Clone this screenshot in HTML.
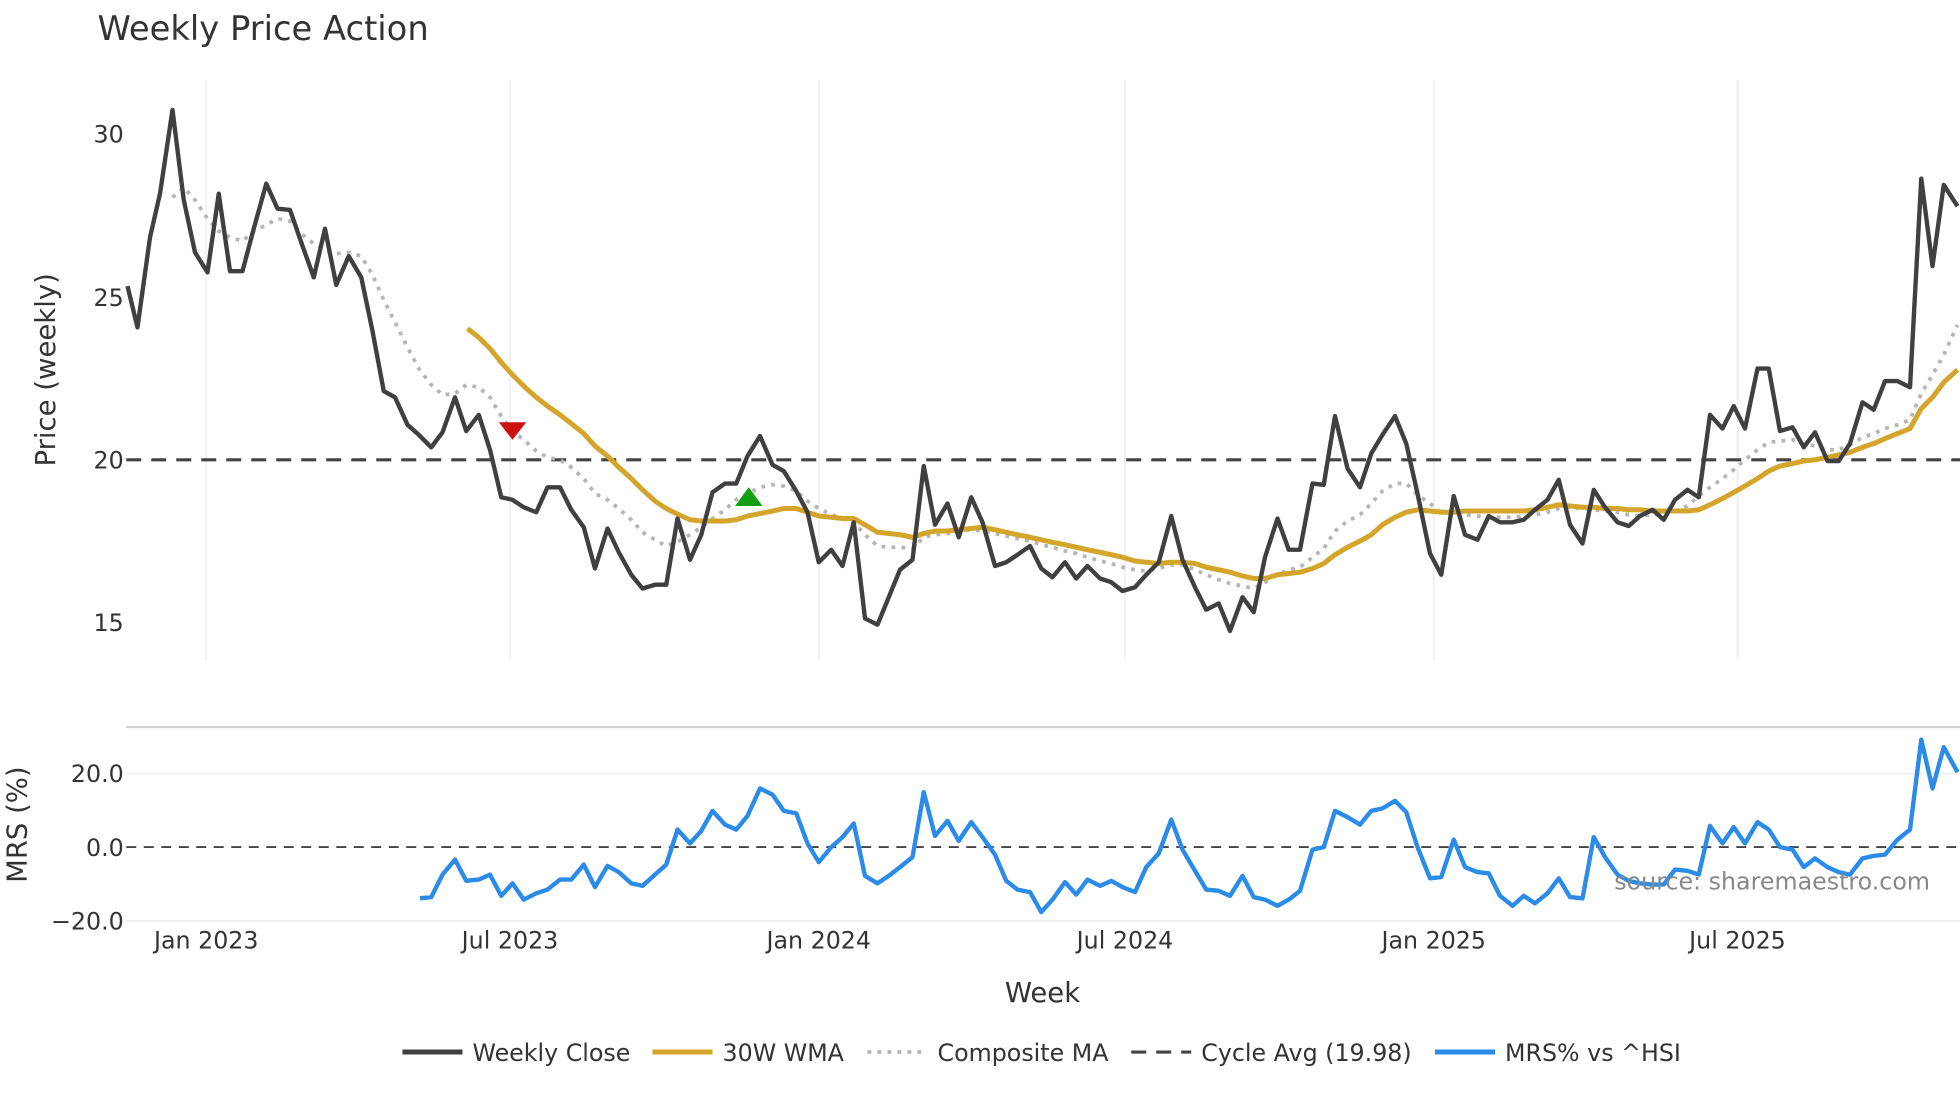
<!DOCTYPE html>
<html><head><meta charset="utf-8"><style>
html,body{margin:0;padding:0;background:#fff;}
svg{display:block;}
text{font-family:"DejaVu Sans","Liberation Sans",sans-serif;fill:#333;}
</style></head><body>
<svg width="1960" height="1102" viewBox="0 0 1568 882" preserveAspectRatio="none">
<rect width="1568" height="882" fill="#fff"/>
<text x="78" y="32" font-size="27">Weekly Price Action</text>
<g stroke="#eef0f2" stroke-width="1.5">
<line x1="165" y1="64" x2="165" y2="528"/><line x1="408" y1="64" x2="408" y2="528"/>
<line x1="655" y1="64" x2="655" y2="528"/><line x1="900" y1="64" x2="900" y2="528"/>
<line x1="1147" y1="64" x2="1147" y2="528"/><line x1="1390" y1="64" x2="1390" y2="528"/>
<line x1="101" y1="619" x2="1568" y2="619"/><line x1="101" y1="737" x2="1568" y2="737"/>
</g>
<line x1="101" y1="582" x2="1568" y2="582" stroke="#ccc" stroke-width="1.5"/>
<g font-size="19" text-anchor="end">
<text x="99" y="114">30</text><text x="99" y="245">25</text><text x="99" y="375">20</text><text x="99" y="505">15</text>
<text x="99" y="626">20.0</text><text x="99" y="685">0.0</text><text x="99" y="744">−20.0</text>
</g>
<g font-size="19" text-anchor="middle">
<text x="165" y="759">Jan 2023</text><text x="408" y="759">Jul 2023</text><text x="655" y="759">Jan 2024</text>
<text x="900" y="759">Jul 2024</text><text x="1147" y="759">Jan 2025</text><text x="1390" y="759">Jul 2025</text>
</g>
<text x="834" y="802" font-size="22" text-anchor="middle">Week</text>
<text transform="translate(44,296) rotate(-90)" font-size="22" text-anchor="middle">Price (weekly)</text>
<text transform="translate(21,660) rotate(-90)" font-size="22" text-anchor="middle">MRS (%)</text>
<line x1="101" y1="368" x2="1568" y2="368" stroke="#444" stroke-width="2.5" stroke-dasharray="12,8"/>
<line x1="101" y1="678" x2="1568" y2="678" stroke="#444" stroke-width="1.5" stroke-dasharray="8,6"/>
<polyline fill="none" stroke="#b5b5b5" stroke-width="3" stroke-dasharray="3,5" points="138,158 147,150 156,160 166,175 175,185 184,190 194,193 203,185 213,180 222,175 232,177 241,187 251,195 260,200 269,203 279,202 289,205 298,220 307,240 316,258 326,278 335,295 345,308 354,316 364,315 373,308 383,310 392,318 401,333 410,345 419,352 429,361 438,366 448,368 457,374 467,383 476,395 486,400 495,407 505,416 514,426 524,432 533,437 543,433 552,428 561,422 570,415 580,408 589,400 598,395 608,390 618,388 627,389 637,393 646,401 655,407 665,412 674,415 683,418 692,428 702,437 711,438 720,438 730,439 739,430 748,428 758,427 767,425 777,424 786,425 796,427 805,429 814,431 824,433 833,436 842,438 852,441 861,443 870,446 880,449 889,451 898,454 908,456 917,457 927,455 937,452 946,452 956,456 965,460 975,464 984,467 994,469 1003,471 1012,466 1022,460 1031,456 1040,454 1050,446 1059,439 1068,425 1078,417 1088,412 1097,403 1106,393 1116,387 1125,387 1134,396 1144,403 1153,410 1163,410 1172,412 1182,413 1191,414 1200,414 1210,414 1219,413 1228,412 1238,410 1247,407 1256,406 1266,407 1275,408 1284,409 1294,410 1303,412 1312,413 1322,412 1331,411 1340,409 1350,405 1359,397 1368,390 1378,383 1387,376 1396,368 1406,360 1415,354 1424,353 1434,352 1443,355 1452,357 1462,360 1471,360 1480,356 1490,350 1499,347 1508,343 1518,340 1528,336 1537,315 1546,300 1555,284 1566,260"/>
<polyline fill="none" stroke="#d4a52a" stroke-width="4" stroke-linejoin="round" points="374,263 383,270 392,279 401,290 410,300 420,310 429,318 438,325 448,332 457,339 467,347 476,357 486,365 495,374 505,383 514,392 524,401 533,407 543,412 552,416 561,417 570,417 580,417 589,416 598,413 608,411 618,409 627,407 637,407 646,410 655,413 665,414 674,415 683,415 692,420 702,426 711,427 720,428 730,430 739,427 748,425 758,425 767,424 777,423 786,422 796,424 805,426 814,428 824,430 833,432 842,434 852,436 861,438 870,440 880,442 889,444 898,446 908,449 917,450 927,451 937,450 946,450 956,451 965,454 975,456 984,458 994,461 1003,463 1012,463 1022,460 1031,459 1040,458 1050,455 1059,451 1068,444 1078,438 1088,433 1097,428 1106,420 1116,414 1125,410 1134,408 1144,409 1153,410 1163,410 1172,409 1182,409 1191,409 1200,409 1210,409 1219,409 1228,408 1238,406 1247,404 1256,405 1266,406 1275,406 1284,407 1294,407 1303,408 1312,408 1322,409 1331,409 1340,409 1350,409 1359,408 1368,404 1378,399 1387,394 1396,389 1406,383 1415,377 1424,373 1434,371 1443,369 1452,368 1462,366 1471,364 1480,362 1490,358 1499,355 1508,351 1518,347 1528,343 1537,327 1546,318 1555,306 1566,296"/>
<polyline fill="none" stroke="#404040" stroke-width="3.5" stroke-linejoin="round" points="102,229 110,262 120,190 128,155 138,88 147,160 156,202 166,218 175,155 184,217 194,217 203,183 213,147 222,167 232,168 241,194 251,222 260,183 269,228 279,205 289,222 298,265 307,313 316,318 326,340 335,348 345,358 354,346 364,318 373,345 383,332 392,360 401,398 410,400 419,406 429,410 438,390 448,390 457,408 467,422 476,455 486,423 495,442 505,460 514,471 524,468 533,468 542,415 552,448 561,428 570,394 580,387 589,387 598,365 608,349 618,372 627,377 637,393 646,410 655,450 665,440 674,453 683,418 692,495 702,500 711,478 720,456 730,448 739,373 748,420 758,403 767,430 777,398 786,418 796,453 805,450 814,444 824,437 833,455 842,462 852,450 861,463 870,453 880,463 889,466 898,473 908,470 917,460 927,450 937,413 946,448 956,470 965,488 975,483 984,505 994,478 1003,490 1012,446 1022,415 1031,440 1040,440 1050,387 1059,388 1068,333 1078,375 1088,390 1097,363 1106,348 1116,333 1125,355 1134,395 1144,443 1153,460 1163,397 1172,428 1182,432 1191,413 1200,418 1210,418 1219,416 1228,408 1238,400 1247,384 1256,420 1266,435 1275,392 1284,406 1294,418 1303,421 1312,413 1322,408 1331,416 1340,400 1350,392 1359,398 1368,332 1378,343 1387,325 1396,343 1406,295 1415,295 1424,345 1434,342 1443,358 1452,346 1462,369 1471,369 1480,355 1490,322 1499,328 1508,305 1518,305 1528,310 1537,143 1546,213 1555,148 1566,165"/>
<polygon points="399,338 421,338 410,352" fill="#cc1111"/>
<polygon points="588,405 610,405 599,390" fill="#11a011"/>
<polyline fill="none" stroke="#2b8be8" stroke-width="3.5" stroke-linejoin="round" points="336,719 345,718 354,700 364,688 373,705 383,704 392,700 401,717 410,707 419,720 429,715 438,712 448,704 457,704 467,692 476,710 486,693 495,698 505,707 514,709 524,700 533,692 542,664 552,675 561,665 570,649 580,660 589,664 598,653 608,631 618,636 627,649 637,651 646,675 655,690 665,678 674,670 683,659 692,701 702,707 711,701 720,694 730,686 739,634 748,669 758,657 767,673 777,658 786,670 796,684 805,705 814,712 824,714 833,730 842,720 852,706 861,716 870,704 880,709 889,705 898,710 908,714 917,694 927,683 937,656 946,680 956,697 965,712 975,713 984,717 994,701 1003,718 1012,720 1022,725 1031,720 1040,713 1050,680 1059,678 1068,649 1078,654 1088,660 1097,649 1106,647 1116,641 1125,650 1134,678 1144,703 1153,702 1163,672 1172,694 1182,698 1191,699 1200,717 1210,725 1219,717 1228,723 1238,715 1247,703 1256,718 1266,719 1275,670 1284,686 1294,700 1303,705 1312,707 1322,708 1331,708 1340,696 1350,697 1359,700 1368,661 1378,675 1387,662 1396,675 1406,658 1415,664 1424,678 1434,680 1443,694 1452,687 1462,694 1471,698 1480,700 1490,687 1499,685 1508,684 1518,672 1528,664 1537,592 1546,631 1555,598 1566,618"/>
<text x="1544" y="712" font-size="19" text-anchor="end" style="fill:#888">source: sharemaestro.com</text>
<g font-size="19">
<line x1="322" y1="842" x2="370" y2="842" stroke="#404040" stroke-width="4"/><text x="378" y="849">Weekly Close</text>
<line x1="522" y1="842" x2="570" y2="842" stroke="#d4a52a" stroke-width="4"/><text x="578" y="849">30W WMA</text>
<line x1="694" y1="842" x2="742" y2="842" stroke="#b5b5b5" stroke-width="3" stroke-dasharray="3,5"/><text x="750" y="849">Composite MA</text>
<line x1="905" y1="842" x2="953" y2="842" stroke="#444" stroke-width="2.5" stroke-dasharray="12,8"/><text x="961" y="849">Cycle Avg (19.98)</text>
<line x1="1148" y1="842" x2="1196" y2="842" stroke="#2b8be8" stroke-width="4"/><text x="1204" y="849">MRS% vs ^HSI</text>
</g>
</svg>
</body></html>
